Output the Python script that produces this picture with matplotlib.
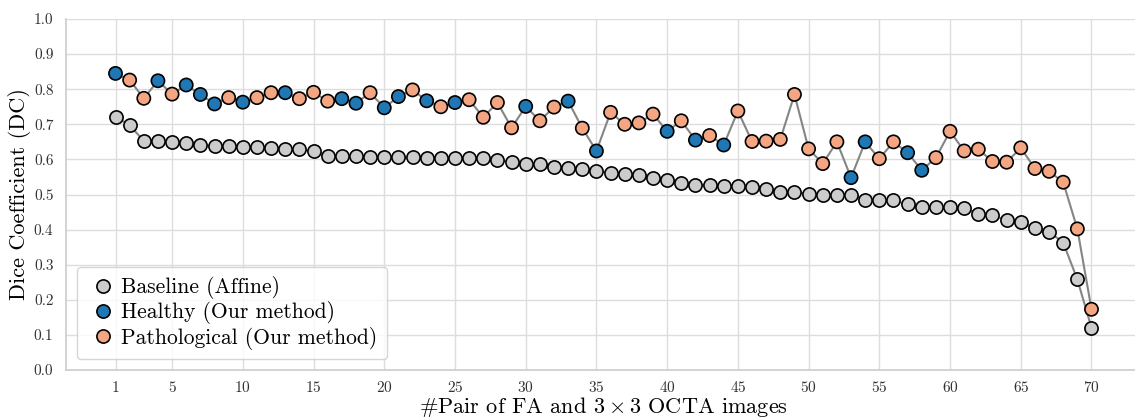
import matplotlib
matplotlib.use("Agg")
import matplotlib.pyplot as plt
import numpy as np

plt.rcParams["font.family"] = "serif"
plt.rcParams["font.serif"] = ["cmr10", "DejaVu Serif"]
plt.rcParams["mathtext.fontset"] = "cm"
plt.rcParams["axes.formatter.use_mathtext"] = True

pairs = list(range(1, 71))

baseline = [
    0.722, 0.697, 0.653, 0.653, 0.649, 0.648, 0.642, 0.637, 0.637, 0.636,
    0.635, 0.632, 0.630, 0.629, 0.623, 0.610, 0.610, 0.609, 0.607, 0.606,
    0.606, 0.606, 0.605, 0.605, 0.605, 0.605, 0.603, 0.597, 0.593, 0.586,
    0.588, 0.578, 0.575, 0.573, 0.568, 0.562, 0.557, 0.556, 0.548, 0.540,
    0.532, 0.527, 0.526, 0.525, 0.524, 0.520, 0.515, 0.507, 0.507, 0.502,
    0.500, 0.500, 0.500, 0.484, 0.484, 0.483, 0.472, 0.464, 0.464, 0.464,
    0.462, 0.444, 0.442, 0.426, 0.421, 0.404, 0.394, 0.363, 0.258, 0.120,
]

ours = [
    0.845, 0.826, 0.774, 0.824, 0.786, 0.812, 0.785, 0.758, 0.776, 0.763,
    0.776, 0.790, 0.790, 0.773, 0.791, 0.766, 0.773, 0.760, 0.790, 0.747,
    0.779, 0.798, 0.767, 0.750, 0.762, 0.770, 0.720, 0.762, 0.690, 0.751,
    0.710, 0.749, 0.766, 0.689, 0.624, 0.734, 0.700, 0.704, 0.729, 0.680,
    0.710, 0.655, 0.668, 0.641, 0.738, 0.651, 0.652, 0.657, 0.785, 0.630,
    0.588, 0.650, 0.548, 0.650, 0.602, 0.650, 0.619, 0.569, 0.605, 0.680,
    0.624, 0.629, 0.594, 0.592, 0.633, 0.574, 0.566, 0.535, 0.402, 0.173,
]

# H = healthy, P = pathological
status = (
    "HPPHPHHHPH"
    "PPHPPPHHPH"
    "HPHPHPPPPH"
    "PPHPHPPPPH"
    "PHPHPPPPPP"
    "PPHHPPHHPP"
    "PPPPPPPPPP"
)

xticks = [1, 5, 10, 15, 20, 25, 30, 35, 40, 45, 50, 55, 60, 65, 70]

C_BASE = "#cccccc"
C_HEALTHY = "#1f77b4"
C_PATH = "#f4a582"

fig = plt.figure(figsize=(11.35, 4.17), dpi=100)
ax = fig.add_axes([66 / 1135, 47 / 417, 1075 / 1135, 351 / 417])

x = np.array(pairs)
ms = 9.5
ax.plot(x, baseline, color="#858585", lw=1.5, zorder=2)
ax.plot(x, ours, color="#858585", lw=1.5, zorder=2)

ax.scatter(x, baseline, s=ms**2, c=C_BASE, edgecolors="black", linewidths=1.2, zorder=3)
cols = [C_HEALTHY if s == "H" else C_PATH for s in status]
ax.scatter(x, ours, s=ms**2, c=cols, edgecolors="black", linewidths=1.2, zorder=4)

# legend handles
ax.plot([], [], "o", ms=ms, mfc=C_BASE, mec="black", mew=1.2, label="Baseline (Affine)")
ax.plot([], [], "o", ms=ms, mfc=C_HEALTHY, mec="black", mew=1.2, label="Healthy (Our method)")
ax.plot([], [], "o", ms=ms, mfc=C_PATH, mec="black", mew=1.2, label="Pathological (Our method)")

ax.set_xlim(-2.5, 73.5)
ax.set_ylim(0, 1.0)
ax.set_xticks(xticks)
ax.set_yticks(np.arange(0, 1.01, 0.1))
ax.set_yticklabels([f"{v:.1f}" for v in np.arange(0, 1.01, 0.1)])
ax.tick_params(axis="x", length=0, labelsize=11, colors="#333333", pad=7)
ax.tick_params(axis="y", length=0, labelsize=11, colors="#333333", pad=9)

ax.grid(True, color="#dddddd", lw=1.0)
ax.set_axisbelow(True)
for side in ["top", "right"]:
    ax.spines[side].set_visible(False)
for side in ["left", "bottom"]:
    ax.spines[side].set_color("#cccccc")
    ax.spines[side].set_linewidth(1.2)

ax.set_ylabel("Dice Coefficient (DC)", fontsize=16, labelpad=2)
ax.set_xlabel(r"#Pair of FA and $3\times3$ OCTA images", fontsize=16, labelpad=0)

leg = ax.legend(loc="lower left", fontsize=15.5, handletextpad=0.1, handlelength=1.5,
                borderpad=0.45, labelspacing=0.1, framealpha=0.8, edgecolor="#cccccc",
                bbox_to_anchor=(0.0, 0.0), borderaxespad=0.5)

fig.savefig("out.png", dpi=100)
